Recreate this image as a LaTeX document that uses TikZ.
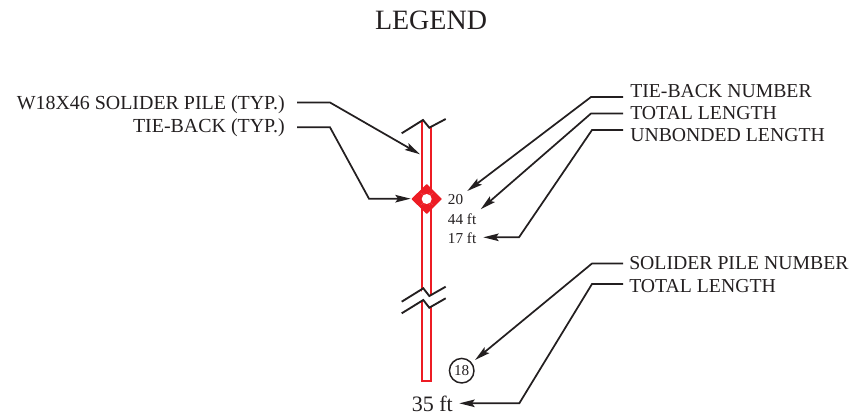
\documentclass[tikz,border=0pt]{standalone}
\usepackage{fontspec}
\setmainfont{Liberation Serif}
\usetikzlibrary{arrows.meta}
\definecolor{pilered}{RGB}{237,28,36}
\definecolor{inkc}{RGB}{35,31,32}
\tikzset{x=0.75pt,y=-0.75pt,
 lab/.style={font=\fontsize{14.8pt}{16pt}\selectfont,text=inkc,inner sep=0pt,anchor=base west},
 labr/.style={lab,anchor=base east,font=\fontsize{14.95pt}{16pt}\selectfont},
 val/.style={font=\fontsize{11.4pt}{13pt}\selectfont,text=inkc,inner sep=0pt,anchor=base west},
 lead/.style={draw=inkc,line width=1.3pt,-{Stealth[length=11.5pt,width=5.6pt,inset=2pt]}},
 brk/.style={draw=inkc,line width=1.4pt},
 pile/.style={draw=pilered,line width=1.4pt}}
\begin{document}
\begin{tikzpicture}
\useasboundingbox (0,0) rectangle (853,417);
\node[inner sep=0pt,anchor=base,font=\fontsize{21pt}{23pt}\selectfont,text=inkc] (title) at (431,30) {LEGEND};
% pile
\draw[pile] (421.7,120.5) -- (421.7,381) -- (431,381) -- (431,127.5);
% breaks
\coordinate (b1a) at (401.7,133.3); \coordinate (b1b) at (423,120); \coordinate (b1c) at (429.3,127.7); \coordinate (b1d) at (445.7,119);
\draw[brk] (b1a) -- (b1b) -- (b1c) -- (b1d);
\coordinate (b2a) at (401.7,301.7); \coordinate (b2b) at (423.3,288.3); \coordinate (b2c) at (429.3,296); \coordinate (b2d) at (445.7,286.7);
\coordinate (b3a) at (401.7,313.3); \coordinate (b3b) at (423.3,300); \coordinate (b3c) at (429.3,307.7); \coordinate (b3d) at (445.7,298.3);
\fill[white] (419,296) -- (423.3,288.3) -- (429.3,296) -- (434,293.5) -- (434,305.5) -- (429.3,307.7) -- (423.3,300) -- (419,302.5) -- cycle;
\draw[brk] (b2a) -- (b2b) -- (b2c) -- (b2d);
\draw[brk] (b3a) -- (b3b) -- (b3c) -- (b3d);
% tie-back symbol
\fill[pilered,draw=pilered,line width=1pt,line join=round] (426.7,184.8) -- (441,199) -- (426.7,213.2) -- (412.4,199) -- cycle;
\foreach \d in {-6,-3,3,6} \draw[white!35!pilered,line width=0.2pt] (426.7+\d,193) -- (426.7,199) -- (426.7+\d,205);
\node[circle,fill=white,minimum size=7.5pt,inner sep=0pt] (tb) at (426.7,199) {};
% labels
\node[labr] (pilelab) at (285,109.3) {W18X46 SOLIDER PILE (TYP.)};
\node[labr] (tielab) at (285,132.3) {TIE-BACK (TYP.)};
\node[lab] (num) at (630,98) {TIE-BACK NUMBER};
\node[lab] (tot) at (630,120) {TOTAL LENGTH};
\node[lab] (unb) at (630,142) {UNBONDED LENGTH};
\node[lab] (spn) at (629,269.5) {SOLIDER PILE NUMBER};
\node[lab] (tot2) at (629,292.3) {TOTAL LENGTH};
\node[val] (v20) at (447.7,204.3) {20};
\node[val] (v44) at (447.7,224) {44 ft};
\node[val] (v17) at (447.7,243.3) {17 ft};
\node[circle,draw=inkc,line width=1.1pt,minimum size=18.4pt,inner sep=0pt,font=\fontsize{11.4pt}{13pt}\selectfont,text=inkc] (c18) at (461.7,370.7) {18};
\node[lab,font=\fontsize{16.5pt}{18pt}\selectfont] (v35) at (411.5,411) {35 ft};
% leaders
\coordinate (p1) at (297,102.5); \coordinate (p1b) at (330,102.5); \coordinate (p1e) at (420,154.3);
\coordinate (p2) at (297,127.3); \coordinate (p2b) at (330,127.3); \coordinate (p2c) at (369,198.7); \coordinate (p2e) at (410.7,198.7);
\draw[lead] (p1) -- (p1b) -- (p1e);
\draw[lead] (p2) -- (p2b) -- (p2c) -- (p2e);
\coordinate (n1) at (623,97); \coordinate (n1b) at (591,97); \coordinate (n1e) at (467.3,191);
\coordinate (n2) at (623,113.5); \coordinate (n2b) at (591,113.5); \coordinate (n2e) at (480.7,209.3);
\coordinate (n3) at (623,130); \coordinate (n3b) at (592,130); \coordinate (n3c) at (519,237.3); \coordinate (n3e) at (483.3,237.3);
\draw[lead] (n1) -- (n1b) -- (n1e);
\draw[lead] (n2) -- (n2b) -- (n2e);
\draw[lead] (n3) -- (n3b) -- (n3c) -- (n3e);
\coordinate (s1) at (623,263.5); \coordinate (s1b) at (592,263.5); \coordinate (s1e) at (475,360);
\coordinate (s2) at (623,284); \coordinate (s2b) at (592,284); \coordinate (s2c) at (519.3,403.3); \coordinate (s2e) at (459.3,403.3);
\draw[lead] (s1) -- (s1b) -- (s1e);
\draw[lead] (s2) -- (s2b) -- (s2c) -- (s2e);
\end{tikzpicture}
\end{document}
